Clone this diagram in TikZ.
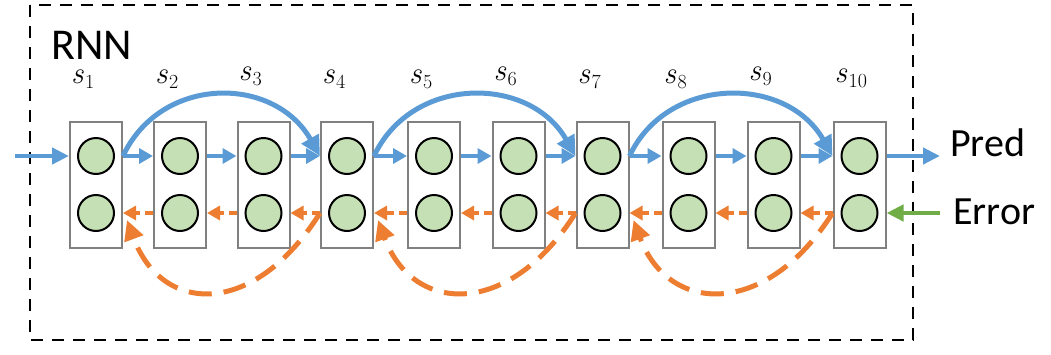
\RequirePackage{fix-cm}
\documentclass[tikz,border=0pt]{standalone}
\usepackage{fontspec}
\newfontfamily\carlito{Carlito}
\usetikzlibrary{arrows.meta,calc}
\definecolor{cblue}{HTML}{5B9BD5}
\definecolor{corange}{HTML}{ED7D31}
\definecolor{cgreen}{HTML}{70AD47}
\definecolor{cfill}{HTML}{C5E0B4}
\definecolor{boxgray}{HTML}{808080}
\newcommand{\stlabel}[1]{{\fontsize{31}{32}\selectfont\itshape s}\kern1.5pt\raisebox{-5pt}{\fontsize{20}{22}\selectfont #1}}
\tikzset{
  cell/.style={draw=boxgray, line width=2pt, minimum width=52pt, minimum height=126pt, inner sep=0pt, fill=white},
  neuron/.style={circle, draw=black, line width=2pt, fill=cfill, minimum size=36pt, inner sep=0pt},
  fwd/.style={draw=cblue, line width=3.5pt, -{Triangle[length=14pt,width=15pt]}},
  fwdbig/.style={draw=cblue, line width=4.5pt, -{Triangle[length=17pt,width=16pt]}},
  skipf/.style={draw=cblue, line width=5pt, -{Triangle[length=20pt,width=19pt]}},
  bwd/.style={draw=corange, line width=3.5pt, dash pattern=on 8pt off 5pt, -{Triangle[length=13pt,width=14pt]}},
  skipb/.style={draw=corange, line width=5pt, dash pattern=on 23pt off 12pt, -{Triangle[length=20pt,width=19pt]}},
  errarrow/.style={draw=cgreen, line width=4.5pt, -{Triangle[length=17pt,width=16pt]}},
  lbl/.style={anchor=base west, inner sep=0pt},
  txt/.style={font=\carlito\fontsize{40}{44}\selectfont, anchor=base west, inner sep=0pt},
  frame/.style={draw=black, line width=2pt, dash pattern=on 12pt off 9pt}
}
\begin{document}
\begin{tikzpicture}[x=1pt,y=-1pt]
\useasboundingbox (0,0) rectangle (1051,354);
\draw[frame] (30,5) rectangle (913,340);
\node[txt, font=\carlito\fontsize{44}{48}\selectfont] (rnn) at (51,59) {RNN};
\foreach \i/\x/\ly in {1/96/83,2/180/83,3/263.5/80,4/347/83,5/434/83,6/518.5/80,7/602.5/83,8/688.5/83,9/773.5/80,10/859.5/82} {
  \node[cell] (b\i) at (\x,185) {};
  \node[neuron] (t\i) at (\x,156) {};
  \node[neuron] (u\i) at (\x,213) {};
  \node[lbl] (s\i) at (\x-25,\ly) {\stlabel{\i}};
}
\foreach \i [evaluate=\i as \j using int(\i+1)] in {1,...,9} {
  \draw[fwd] (b\i.east |- t\i) -- (b\j.west |- t\j);
  \draw[bwd] (b\j.west |- u\j) -- (b\i.east |- u\i);
}
\foreach \a/\b in {1/4,4/7,7/10} {
  \draw[skipf] (b\a.east |- t\a) .. controls +(38,-81) and +(-46,-81) .. (b\b.west |- t\b);
  \draw[skipb] (b\b.west |- u\b) .. controls +(-66,105) and +(35,95) .. ($(b\a.east |- u\a)+(4,7)$);
}
\node[txt] (pred) at (950,156) {Pred};
\node[txt] (err) at (953,224) {Error};
\coordinate (inp) at (15,156);
\coordinate (predend) at (940,156);
\coordinate (errstart) at (940,213);
\draw[fwdbig] (inp) -- (b1.west |- t1);
\draw[fwdbig] (b10.east |- t10) -- (predend);
\draw[errarrow] (errstart) -- (b10.east |- u10);
\end{tikzpicture}
\end{document}
